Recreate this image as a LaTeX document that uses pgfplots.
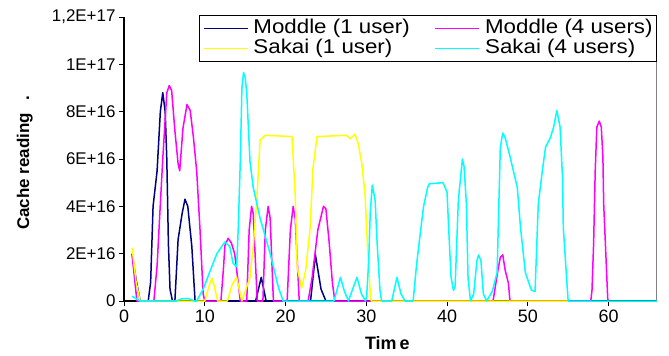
\documentclass[border=0pt]{standalone}
\usepackage{pgfplots}
\pgfplotsset{compat=1.18}
\usepackage{fontspec}
\setmainfont{Liberation Sans}
\newfontfamily\legfont{Liberation Sans}[FakeStretch=1.12]
\definecolor{mnavy}{RGB}{0,0,128}
\definecolor{mmag}{RGB}{255,0,255}
\definecolor{myel}{RGB}{255,255,0}
\definecolor{mcyan}{RGB}{0,255,255}
\begin{document}
\begin{tikzpicture}
\useasboundingbox (-124bp,-55bp) rectangle (545bp,301bp);
\begin{axis}[
  scale only axis, width=533bp, height=284bp,
  xmin=0, xmax=66, ymin=0, ymax=1.2e17,
  clip=false,
  axis x line*=bottom, axis y line*=left,
  axis line style={-, black, line width=1.4bp},
  xtick={0,10,20,30,40,50,60},
  ytick={0,2e16,4e16,6e16,8e16,1e17,1.2e17},
  yticklabels={0,2E+16,4E+16,6E+16,8E+16,1E+17,{1,2E+17}},
  scaled y ticks=false,
  tick align=outside, major tick length=5bp,
  tick style={black, line width=0.8bp},
  /pgf/number format/assume math mode=true,
  xticklabel style={font=\fontsize{18}{18}\selectfont},
  yticklabel style={font=\fontsize{17}{17}\selectfont},
  xlabel={Tim\,e},
  xlabel style={font=\fontsize{18}{18}\selectfont\bfseries, at={(axis description cs:0.494,-0.1725)}, anchor=base},
  ylabel={Cache reading\hspace{12bp}.},
  ylabel style={font=\fontsize{17}{17}\selectfont\bfseries, at={(axis description cs:-0.186,0.486)}, anchor=center},
  legend columns=2,
  legend cell align=left,
  legend image code/.code={\draw[#1, line width=1.4bp] (0bp,0bp) -- (44bp,0bp);},
  legend style={at={(axis description cs:1,1)}, anchor=north east, yshift=2bp,
    draw=black, line width=0.8bp, fill=white,
    font=\legfont\fontsize{20}{20}\selectfont,
    inner xsep=4bp, inner ysep=3bp,
    nodes={inner sep=0pt, text height=15bp, text depth=5bp},
    /tikz/every odd column/.append style={column sep=5bp},
    /tikz/every even column/.append style={column sep=25bp}},
  every axis plot/.append style={line width=1.5bp, line join=round},
]
\draw[gray, line width=1bp] (rel axis cs:1,0) -- (rel axis cs:1,1);
% Moddle (1 user)
\addplot[mnavy] coordinates {
(1,2.0e16) (1.5,0.9e16) (2,0) (3,0) (3.3,0.8e16) (3.6,4.0e16) (4.1,5.5e16) (4.5,8.0e16) (4.8,8.8e16) (5.1,8.0e16) (5.3,6.0e16) (5.5,2.4e16) (5.7,0.5e16) (6,0) (6.3,0) (6.7,2.6e16) (7.2,3.7e16) (7.55,4.3e16) (7.9,4.0e16) (8.4,2.3e16) (8.8,0) (16.3,0) (17,1.0e16) (17.6,0) (23.1,0) (23.7,1.95e16) (24.4,0.5e16) (25,0) (33,0)
};
\addlegendentry{Moddle (1 user)}
% Moddle (4 users)
\addplot[mmag] coordinates {
(1,1.95e16) (1.6,0) (3.7,0) (4.1,1.5e16) (4.5,4.1e16) (4.8,6.0e16) (5.3,8.8e16) (5.6,9.1e16) (5.9,8.9e16) (6.3,7.2e16) (6.7,5.8e16) (6.9,5.5e16) (7.3,7.3e16) (7.8,8.3e16) (8.2,8.05e16) (8.6,6.9e16) (9.0,5.5e16) (9.4,3.1e16) (9.8,0.3e16) (10,0) (12.0,0) (12.3,1.3e16) (12.5,2.35e16) (12.9,2.65e16) (13.3,2.45e16) (13.7,2.0e16) (14.1,0.9e16) (14.4,0) (15.2,0) (15.5,3.0e16) (15.8,4.0e16) (16.0,3.7e16) (16.5,0) (17.2,0) (17.5,3.0e16) (17.85,4.0e16) (18.1,3.5e16) (18.5,0) (20.2,0) (20.6,3.0e16) (20.95,4.0e16) (21.2,3.5e16) (21.7,0) (22.8,0) (23.3,1.0e16) (24.0,3.0e16) (24.7,4.0e16) (25.0,3.9e16) (25.4,2.5e16) (25.8,0.8e16) (26.1,0) (45.7,0) (46.3,1.3e16) (46.6,1.85e16) (46.9,1.95e16) (47.2,1.3e16) (47.6,0.75e16) (47.8,0) (57.8,0) (57.95,0.45e16) (58.15,2.4e16) (58.35,5.5e16) (58.55,7.35e16) (58.85,7.6e16) (59.1,7.35e16) (59.3,6.1e16) (59.4,4.1e16) (59.7,1.7e16) (59.9,0.1e16) (60,0)
};
\addlegendentry{Moddle (4 users)}
% Sakai (1 user)
\addplot[myel] coordinates {
(1,2.25e16) (1.5,0.8e16) (2,0) (10.0,0) (10.5,0.6e16) (10.9,0.97e16) (11.2,0.6e16) (11.6,0) (12.8,0) (13.4,0.7e16) (13.95,1.0e16) (14.2,0.6e16) (14.6,0) (15.6,1.0e16) (16.0,2.3e16) (16.45,4.3e16) (16.85,6.8e16) (17.5,7.0e16) (20.8,6.95e16) (21.2,4.5e16) (21.45,1.4e16) (22.0,0.55e16) (22.5,1.3e16) (23.05,3.1e16) (23.4,5.6e16) (23.9,6.95e16) (27.6,7.0e16) (28.0,6.85e16) (28.6,7.05e16) (29.0,6.65e16) (29.45,5.8e16) (29.85,4.5e16) (30.15,2.3e16) (30.5,0.3e16) (30.6,0) (55,0)
};
\addlegendentry{Sakai (1 user)}
% Sakai (4 users)
\addplot[mcyan] coordinates {
(1,0.2e16) (2,0) (6.5,0) (7.2,0.1e16) (8,0.1e16) (8.7,0) (9.0,0) (9.8,0.5e16) (10.7,1.3e16) (11.5,2.0e16) (12.5,2.5e16) (13.1,2.3e16) (13.5,1.6e16) (13.95,1.45e16) (14.15,3.1e16) (14.4,5.9e16) (14.6,9.0e16) (14.8,9.65e16) (15.0,9.45e16) (15.2,8.8e16) (15.6,5.9e16) (16.0,4.8e16) (16.85,3.5e16) (18.1,2.0e16) (19.1,0.6e16) (19.7,0) (26.0,0) (26.8,1.0e16) (27.3,0.4e16) (27.8,0) (28.1,0.3e16) (28.85,1.0e16) (29.4,0.3e16) (29.9,0) (30.05,0.2e16) (30.3,1.7e16) (30.5,3.8e16) (30.75,4.9e16) (31.1,4.25e16) (31.35,2.4e16) (31.7,0.45e16) (31.9,0) (33.15,0) (33.8,1.0e16) (34.3,0.3e16) (34.8,0) (35.8,0) (36.25,1.6e16) (36.7,2.9e16) (37.1,4.0e16) (37.6,4.8e16) (37.8,4.95e16) (39.5,5.0e16) (40.0,4.6e16) (40.2,3.1e16) (40.5,1.0e16) (40.8,0.45e16) (41.0,0.6e16) (41.4,4.25e16) (41.9,6.0e16) (42.1,5.7e16) (42.4,4.1e16) (42.6,1.0e16) (42.9,0) (43.3,0.3e16) (43.7,1.7e16) (43.9,1.95e16) (44.2,1.7e16) (44.5,0.3e16) (44.9,0) (45.6,0.4e16) (46.2,1.2e16) (46.6,6.5e16) (46.9,7.1e16) (47.2,6.9e16) (47.8,6.1e16) (48.7,4.8e16) (49.1,3.1e16) (49.7,1.2e16) (50.3,0.6e16) (50.5,0.45e16) (50.9,0.4e16) (51.3,4.1e16) (51.8,5.5e16) (52.2,6.5e16) (52.8,6.9e16) (53.2,7.35e16) (53.6,8.05e16) (54.0,7.35e16) (54.3,5.2e16) (54.4,3.1e16) (54.8,1.0e16) (55,0) (66,0)
};
\addlegendentry{Sakai (4 users)}
\end{axis}
\end{tikzpicture}
\end{document}
